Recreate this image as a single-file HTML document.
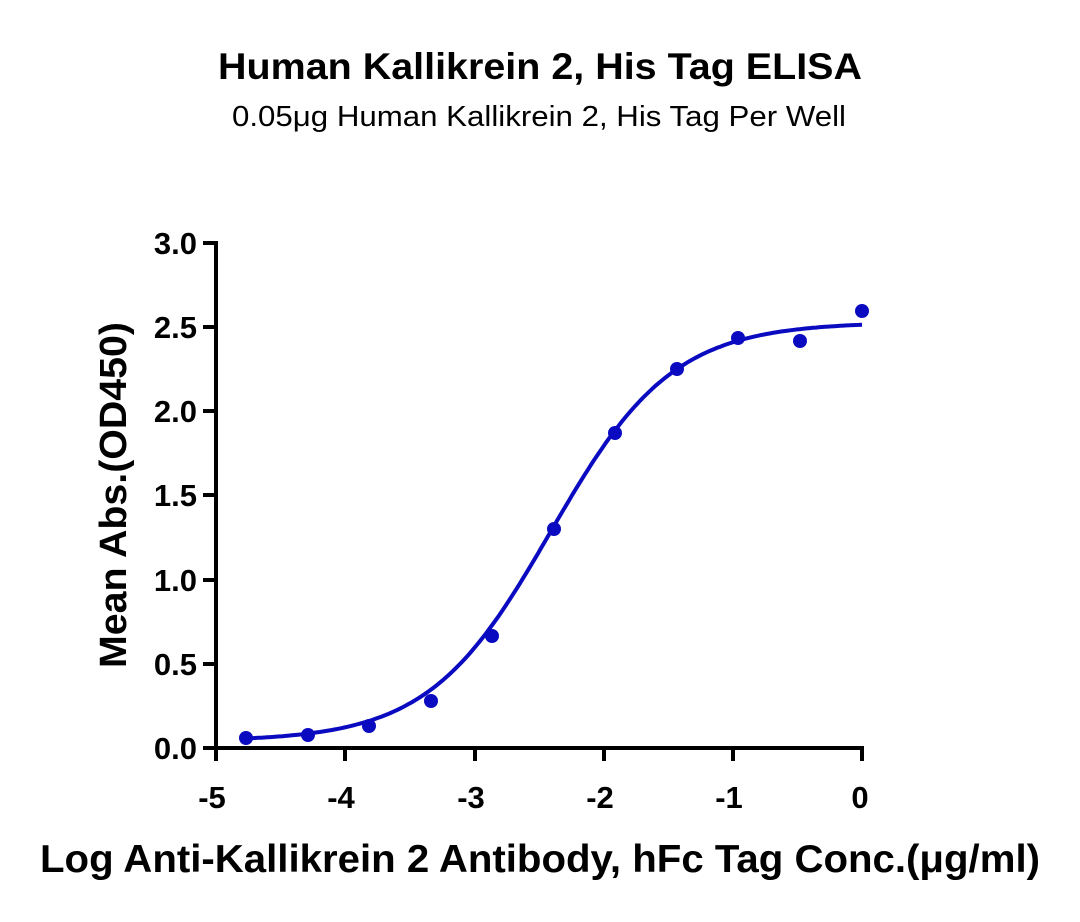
<!DOCTYPE html>
<html><head><style>body{margin:0;background:#fff}</style></head><body>
<svg width="1080" height="917" xmlns="http://www.w3.org/2000/svg" font-family="'Liberation Sans', sans-serif">
<rect width="1080" height="917" fill="#fff"/>
<text x="218" y="79" font-size="37" font-weight="bold" textLength="644" lengthAdjust="spacingAndGlyphs">Human Kallikrein 2, His Tag ELISA</text>
<text x="232" y="126" font-size="29" textLength="614" lengthAdjust="spacingAndGlyphs">0.05μg Human Kallikrein 2, His Tag Per Well</text>
<g stroke="#000" stroke-width="4" fill="none">
<path d="M216 241 V750 M214 748 H864"/>
<path d="M203 243 H216 M203 327 H216 M203 411 H216 M203 495 H216 M203 580 H216 M203 664 H216 M203 748 H216"/>
<path d="M216 748 V761 M345 748 V761 M475 748 V761 M604 748 V761 M733 748 V761 M862 748 V761"/>
</g>
<g font-size="31" font-weight="bold" text-anchor="end">
<text x="197" y="254">3.0</text><text x="197" y="338">2.5</text><text x="197" y="422">2.0</text><text x="197" y="506">1.5</text><text x="197" y="591">1.0</text><text x="197" y="675">0.5</text><text x="197" y="759">0.0</text>
</g>
<g font-size="31" font-weight="bold" text-anchor="middle">
<text x="212" y="808">-5</text><text x="341" y="808">-4</text><text x="471" y="808">-3</text><text x="600" y="808">-2</text><text x="729" y="808">-1</text><text x="860" y="808">0</text>
</g>
<text x="40" y="872" font-size="39" font-weight="bold" textLength="1000" lengthAdjust="spacingAndGlyphs">Log Anti-Kallikrein 2 Antibody, hFc Tag Conc.(μg/ml)</text>
<text transform="translate(126,495) rotate(-90)" text-anchor="middle" font-size="38" font-weight="bold" textLength="346" lengthAdjust="spacingAndGlyphs">Mean Abs.(OD450)</text>
<path id="curve" stroke="#0a0ac0" stroke-width="4" fill="none"/>
<g fill="#0a0ac0">
<circle cx="246" cy="738" r="7"/><circle cx="308" cy="735" r="7"/><circle cx="369" cy="726" r="7"/><circle cx="431" cy="701" r="7"/><circle cx="492" cy="636" r="7"/><circle cx="554" cy="529" r="7"/><circle cx="615" cy="433" r="7"/><circle cx="677" cy="369" r="7"/><circle cx="738" cy="338" r="7"/><circle cx="800" cy="341" r="7"/><circle cx="862" cy="311" r="7"/>
</g>
</svg>
<script>
var d="",b=0.04,t=2.53,c=-2.41,h=0.92;
for(var i=0;i<=200;i++){var x=-4.77+4.77*i/200;var y=b+(t-b)/(1+Math.pow(10,(c-x)*h));
var px=862+x*129.2,py=748-y*168.3;d+=(i?"L":"M")+px.toFixed(1)+" "+py.toFixed(1);}
document.getElementById("curve").setAttribute("d",d);
</script>
</body></html>
